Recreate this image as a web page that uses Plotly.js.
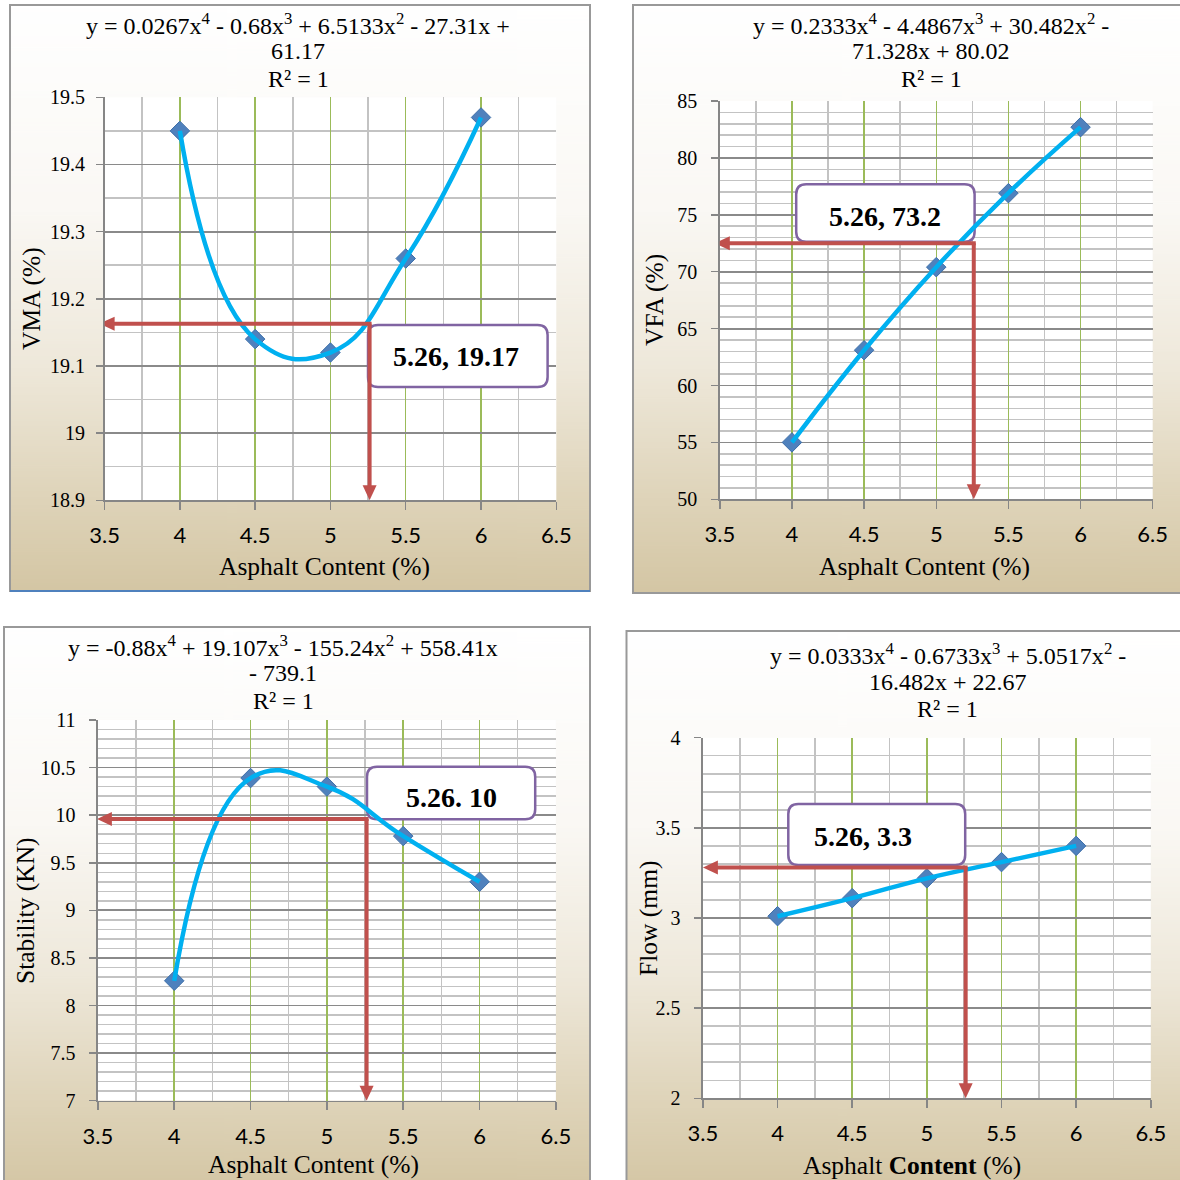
<!DOCTYPE html>
<html><head><meta charset="utf-8">
<script src="https://cdn.plot.ly/plotly-3.0.1.min.js"></script>
<style>html,body{margin:0;padding:0;background:#fff;} #chart{width:1180px;height:1180px;}</style>
</head><body><div id="chart"></div>
<script>
// ---------------- data ----------------
const asphaltContent = [4, 4.5, 5, 5.5, 6];
const vmaValues = [19.45, 19.14, 19.12, 19.26, 19.47];
const vfaValues = [55.0, 63.1, 70.4, 76.9, 82.7];
const stabilityValues = [8.26, 10.39, 10.30, 9.78, 9.30];
const flowValues = [3.01, 3.11, 3.22, 3.31, 3.40];
const optimumAC = [5.26, 5.26, 5.26, 5.26];
const optimumRead = [19.163, 72.5, 9.96, 3.28];
const optimumLabels = ['5.26, 19.17', '5.26, 73.2', '5.26. 10', '5.26, 3.3'];
const yTitles = ['VMA (%)', 'VFA (%)', 'Stability (KN)', 'Flow (mm)'];
const xTitles = ['Asphalt Content (%)', 'Asphalt Content (%)', 'Asphalt Content (%)', 'Asphalt <b>Content</b> (%)'];
const equationLines = [
  ['y = 0.0267x<sup>4</sup> - 0.68x<sup>3</sup> + 6.5133x<sup>2</sup> - 27.31x +', '61.17', 'R² = 1'],
  ['y = 0.2333x<sup>4</sup> - 4.4867x<sup>3</sup> + 30.482x<sup>2</sup> -', '71.328x + 80.02', 'R² = 1'],
  ['y = -0.88x<sup>4</sup> + 19.107x<sup>3</sup> - 155.24x<sup>2</sup> + 558.41x', '- 739.1', 'R² = 1'],
  ['y = 0.0333x<sup>4</sup> - 0.6733x<sup>3</sup> + 5.0517x<sup>2</sup> -', '16.482x + 22.67', 'R² = 1']
];
const seriesValues = [vmaValues, vfaValues, stabilityValues, flowValues];
const xRange = [3.5, 6.5];
const yRanges = [[18.9, 19.5], [50, 85], [7, 11], [2, 4]];
const yMajor = [0.1, 5, 0.5, 0.5];
const yMinor = [0.05, 1, 0.1, 0.1];

// ---------------- layout geometry (px) ----------------
const W = 1180, H = 1180;
const plots = [
  {l: 104.6, r: 556.3, t: 97.3, b: 500.3},
  {l: 719.8, r: 1152.7, t: 101, b: 499.3},
  {l: 97.9, r: 555.9, t: 720, b: 1100.7},
  {l: 702.9, r: 1150.8, t: 737.7, b: 1098.3}
];
const frames = [[10, 5, 590, 591], [633, 5, 1190, 593], [4, 627, 590, 1190], [626.5, 631, 1190, 1190]];
const titleX = [298, 931, 283, 947.5];
const titleY = [[24, 51.5, 79], [24, 51, 79], [646, 673.3, 701.3], [654, 681.7, 709]];
const xTitlePos = [[324, 567], [924, 567], [313, 1164], [912, 1165]];
const yTitlePos = [[32, 299], [654, 300], [25, 911], [648, 919]];
const boxes = [[368, 325, 547.6, 387], [796.2, 184.3, 974.6, 241.7], [367, 766.7, 535.2, 819.3], [788.3, 804, 965.2, 865]];
const boxText = [[456, 356.7], [885.4, 216.7], [451, 797.3], [863, 836.7]];
const arrowTipGap = [5, 5, 1, 0];

const serif = 'Liberation Serif, Times New Roman, serif';
const sans = 'Lato, Open Sans, sans-serif';
const px = v => v / W;
const py = v => 1 - v / H;

function canvasURL(paint) {
  const c = document.createElement('canvas');
  c.width = 4; c.height = 600;
  paint(c.getContext('2d'));
  return c.toDataURL();
}
const grad = canvasURL(g => {
  const lg = g.createLinearGradient(0, 0, 0, 600);
  lg.addColorStop(0, '#ffffff');
  lg.addColorStop(0.35, '#faf8f4');
  lg.addColorStop(0.62, '#eee8da');
  lg.addColorStop(0.85, '#ded3b8');
  lg.addColorStop(1, '#d4c6a4');
  g.fillStyle = lg; g.fillRect(0, 0, 4, 600);
});
const whiteFill = canvasURL(g => { g.fillStyle = '#ffffff'; g.fillRect(0, 0, 4, 600); });

const data = [];
const layout = {
  width: W, height: H, margin: {l: 0, r: 0, t: 0, b: 0},
  paper_bgcolor: '#ffffff', plot_bgcolor: '#ffffff', showlegend: false,
  images: [], shapes: [], annotations: []
};

plots.forEach((p, i) => {
  const n = i === 0 ? '' : String(i + 1);
  const xa = 'x' + n, ya = 'y' + n;
  layout['xaxis' + n] = {
    domain: [px(p.l), px(p.r)], range: xRange, anchor: ya,
    tick0: 3.5, dtick: 0.5, ticks: 'outside', ticklen: 8, tickwidth: 1.5, tickcolor: '#868686',
    showline: true, linecolor: '#868686', linewidth: 1.5, zeroline: false,
    showgrid: true, gridcolor: '#9bbb59', gridwidth: 1.5,
    minor: {tick0: 3.5, dtick: 0.25, showgrid: true, gridcolor: '#c3c3c3', gridwidth: 1.5, ticks: ''},
    tickfont: {family: sans, size: 22, color: '#000'}, ticklabelstandoff: 7, fixedrange: true
  };
  layout['yaxis' + n] = {
    domain: [py(p.b), py(p.t)], range: yRanges[i], anchor: xa,
    tick0: yRanges[i][0], dtick: yMajor[i], ticks: 'outside', ticklen: 7, tickwidth: 1.5, tickcolor: '#868686',
    showline: true, linecolor: '#868686', linewidth: 1.5, zeroline: false,
    showgrid: true, gridcolor: '#8a8a8a', gridwidth: 1.8,
    minor: {tick0: yRanges[i][0], dtick: yMinor[i], showgrid: true, gridcolor: '#c3c3c3', gridwidth: 1.5, ticks: ''},
    tickfont: {family: serif, size: 20, color: '#000'}, ticklabelstandoff: i === 0 ? 7 : 10, fixedrange: true
  };

  // data: markers below, smoothed line on top
  data.push({x: asphaltContent, y: seriesValues[i], xaxis: xa, yaxis: ya, mode: 'markers', type: 'scatter',
    marker: {symbol: 'diamond', size: 15, color: '#4f81bd', line: {color: '#3f6fa8', width: 1}}, hoverinfo: 'skip'});
  data.push({x: asphaltContent, y: seriesValues[i], xaxis: xa, yaxis: ya, mode: 'lines', type: 'scatter',
    line: {color: '#00b0f0', width: 4.5, shape: 'spline', smoothing: 1.3}, hoverinfo: 'skip'});

  // frame background (gradient), white plot area, border
  const f = frames[i];
  layout.images.push({source: grad, xref: 'paper', yref: 'paper', x: px(f[0]), y: py(f[1]),
    sizex: (f[2] - f[0]) / W, sizey: (f[3] - f[1]) / H, xanchor: 'left', yanchor: 'top', sizing: 'stretch', layer: 'below'});
  layout.images.push({source: whiteFill, xref: 'paper', yref: 'paper', x: px(p.l), y: py(p.t),
    sizex: (p.r - p.l) / W, sizey: (p.b - p.t) / H, xanchor: 'left', yanchor: 'top', sizing: 'stretch', layer: 'below'});
  layout.shapes.push({type: 'rect', xref: 'paper', yref: 'paper', x0: px(f[0]), x1: px(f[2]), y0: py(f[3]), y1: py(f[1]),
    line: {color: '#999999', width: 2}, fillcolor: 'rgba(0,0,0,0)', layer: 'below'});
  if (i === 0) {
    layout.shapes.push({type: 'line', xref: 'paper', yref: 'paper', x0: px(f[0]), x1: px(f[2]), y0: py(f[3]), y1: py(f[3]),
      line: {color: '#4f81bd', width: 2}, layer: 'below'});
  }

  // px <-> data helpers for this panel
  const toX = v => xRange[0] + (v - p.l) / (p.r - p.l) * (xRange[1] - xRange[0]);
  const toY = v => yRanges[i][1] - (v - p.t) / (p.b - p.t) * (yRanges[i][1] - yRanges[i][0]);
  const fromX = v => p.l + (v - xRange[0]) / (xRange[1] - xRange[0]) * (p.r - p.l);
  const fromY = v => p.t + (yRanges[i][1] - v) / (yRanges[i][1] - yRanges[i][0]) * (p.b - p.t);
  const P = (a, c) => toX(a) + ',' + toY(c);

  // rounded label box
  const b = boxes[i], r = 10;
  const path = 'M' + P(b[0] + r, b[1]) + ' L' + P(b[2] - r, b[1]) + ' Q' + P(b[2], b[1]) + ' ' + P(b[2], b[1] + r) +
    ' L' + P(b[2], b[3] - r) + ' Q' + P(b[2], b[3]) + ' ' + P(b[2] - r, b[3]) +
    ' L' + P(b[0] + r, b[3]) + ' Q' + P(b[0], b[3]) + ' ' + P(b[0], b[3] - r) +
    ' L' + P(b[0], b[1] + r) + ' Q' + P(b[0], b[1]) + ' ' + P(b[0] + r, b[1]) + ' Z';
  layout.shapes.push({type: 'path', xref: xa, yref: ya, path: path, fillcolor: '#ffffff',
    line: {color: '#8064a2', width: 2.5}, layer: 'between'});
  layout.annotations.push({xref: 'paper', yref: 'paper', x: px(boxText[i][0]), y: py(boxText[i][1]),
    text: '<b>' + optimumLabels[i] + '</b>', showarrow: false, xanchor: 'center', yanchor: 'middle',
    font: {family: serif, size: 28, color: '#000'}});

  // red L-shaped arrows (lines + triangular heads)
  const red = '#c0504d', headL = 15, headW = 7, lw = 4;
  const ox = fromX(optimumAC[i]), oy = fromY(optimumRead[i]);
  const tipX = p.l - arrowTipGap[i], tipY = p.b;
  layout.shapes.push({type: 'line', xref: xa, yref: ya, x0: toX(ox + lw / 2), y0: optimumRead[i], x1: toX(tipX + headL - 1), y1: optimumRead[i],
    line: {color: red, width: lw}, layer: 'above'});
  layout.shapes.push({type: 'line', xref: xa, yref: ya, x0: optimumAC[i], y0: optimumRead[i], x1: optimumAC[i], y1: toY(tipY - headL + 1),
    line: {color: red, width: lw}, layer: 'above'});
  layout.shapes.push({type: 'path', xref: xa, yref: ya, fillcolor: red, line: {width: 0}, layer: 'above',
    path: 'M' + P(tipX, oy) + ' L' + P(tipX + headL, oy - headW) + ' L' + P(tipX + headL, oy + headW) + ' Z'});
  layout.shapes.push({type: 'path', xref: xa, yref: ya, fillcolor: red, line: {width: 0}, layer: 'above',
    path: 'M' + P(ox, tipY) + ' L' + P(ox - headW, tipY - headL) + ' L' + P(ox + headW, tipY - headL) + ' Z'});

  // equation title lines
  equationLines[i].forEach((t, k) => {
    layout.annotations.push({xref: 'paper', yref: 'paper', x: px(titleX[i]), y: py(titleY[i][k]), text: t,
      showarrow: false, xanchor: 'center', yanchor: 'middle', font: {family: serif, size: 24, color: '#000'}});
  });
  // axis titles
  layout.annotations.push({xref: 'paper', yref: 'paper', x: px(xTitlePos[i][0]), y: py(xTitlePos[i][1]), text: xTitles[i],
    showarrow: false, xanchor: 'center', yanchor: 'middle', font: {family: serif, size: 25.5, color: '#000'}});
  layout.annotations.push({xref: 'paper', yref: 'paper', x: px(yTitlePos[i][0]), y: py(yTitlePos[i][1]), text: yTitles[i],
    showarrow: false, xanchor: 'center', yanchor: 'middle', textangle: -90, font: {family: serif, size: 25.5, color: '#000'}});
});

Plotly.newPlot('chart', data, layout, {staticPlot: true, displayModeBar: false});
</script>
</body></html>
